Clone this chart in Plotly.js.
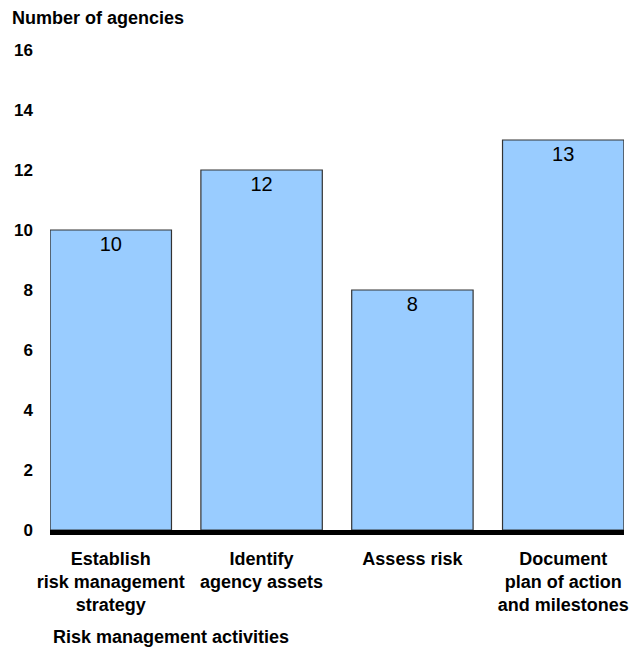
<!DOCTYPE html>
<html>
<head>
<meta charset="utf-8">
<script src="https://cdn.plot.ly/plotly-3.0.1.min.js"></script>
<style>html,body{margin:0;padding:0;background:#fff;}#chart{width:631px;height:649px;}</style>
</head>
<body>
<div id="chart"></div>
<script>
const categories = [
  "Establish<br>risk management<br>strategy",
  "Identify<br>agency assets",
  "Assess risk",
  "Document<br>plan of action<br>and milestones"
];
const values = [10, 12, 8, 13];
const yTickVals = [0, 2, 4, 6, 8, 10, 12, 14, 16];
const yTitle = "Number of agencies";
const xTitle = "Risk management activities";

const FONT = "Liberation Sans, Arial, Helvetica, sans-serif";

const trace = {
  type: "bar",
  x: categories,
  y: values,
  text: values.map(String),
  textposition: "inside",
  insidetextanchor: "end",
  textangle: 0,
  constraintext: "none",
  textfont: {family: FONT, size: 20, color: "#000"},
  marker: {color: "#99CCFF", line: {color: "#333333", width: 1.2}},
  hoverinfo: "skip"
};

const layout = {
  width: 631,
  height: 649,
  margin: {l: 50, r: 7, t: 50, b: 119, pad: 0},
  paper_bgcolor: "#ffffff",
  plot_bgcolor: "#ffffff",
  showlegend: false,
  bargap: 0.195,
  font: {family: FONT, color: "#000"},
  xaxis: {
    type: "category",
    range: [-0.403, 3.403],
    showline: true,
    linecolor: "#000",
    linewidth: 5,
    ticks: "",
    showgrid: false,
    zeroline: false,
    tickfont: {family: FONT, size: 18, color: "#000", weight: "bold"},
    ticklabelstandoff: 8
  },
  yaxis: {
    range: [0, 16],
    tickvals: yTickVals,
    ticktext: yTickVals.map(String),
    showline: false,
    showgrid: false,
    zeroline: false,
    ticks: "",
    tickfont: {family: FONT, size: 17, color: "#000", weight: "bold"},
    ticklabelstandoff: 16
  },
  annotations: [
    {text: "<b>" + yTitle + "</b>", xref: "paper", yref: "paper", x: -50/574, y: 1, xanchor: "left", yanchor: "middle",
     yshift: 32, xshift: 10, showarrow: false, font: {family: FONT, size: 18, color: "#000"}},
    {text: "<b>" + xTitle + "</b>", xref: "paper", yref: "paper", x: 0, y: 0, xanchor: "left", yanchor: "middle",
     yshift: -107, xshift: 1, showarrow: false, font: {family: FONT, size: 18, color: "#000"}}
  ]
};

Plotly.newPlot("chart", [trace], layout, {displayModeBar: false, staticPlot: true});
</script>
</body>
</html>
